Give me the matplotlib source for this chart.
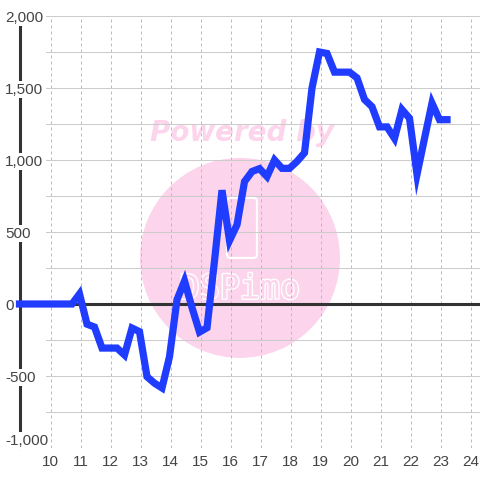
import numpy as np
import matplotlib
matplotlib.use('Agg')
import matplotlib.pyplot as plt
from matplotlib.patches import Ellipse, FancyBboxPatch
import matplotlib.patheffects as pe
from matplotlib.ticker import MultipleLocator, FuncFormatter, FixedLocator

plt.rcParams['font.family'] = ['Liberation Sans', 'DejaVu Sans']

# data
x_start = 8.96
x_step = 0.25
values = [0, 0, 0, 0, 0, 0, 0, 0, 70, -140, -160, -306, -306, -306, -354, -167,
          -192, -505, -550, -583, -366, 30, 160, -25, -195, -165, 300, 790, 440,
          550, 850, 920, 940, 885, 1000, 942, 942, 990, 1050, 1500, 1750, 1740,
          1610, 1610, 1610, 1570, 1420, 1370, 1230, 1230, 1150, 1350, 1290, 900,
          1150, 1395, 1280, 1280]
xs = x_start + x_step * np.arange(len(values))
x_ticks = list(range(10, 25))
y_ticks = [-1000, -500, 0, 500, 1000, 1500, 2000]

fig = plt.figure(figsize=(4.8, 4.8), dpi=100)
ax = fig.add_axes([46 / 480, 32 / 480, 434 / 480, 432 / 480])
ax.set_xlim(9.843, 24.31)
ax.set_ylim(-1000, 2000)
ax.set_axisbelow(True)

ax.xaxis.set_major_locator(FixedLocator(x_ticks))
ax.yaxis.set_major_locator(FixedLocator(y_ticks))
ax.yaxis.set_minor_locator(MultipleLocator(250))
ax.yaxis.set_major_formatter(FuncFormatter(lambda v, p: f"{int(v):,}"))
ax.tick_params(axis='both', which='both', length=0, labelsize=11, labelcolor='#444444')
ax.tick_params(axis='y', pad=15 * 72 / 100)
ax.tick_params(axis='x', pad=5)

ax.grid(which='both', axis='y', color='#cccccc', lw=0.75, ls='-')
ax.grid(which='major', axis='x', color='#bbbbbb', lw=0.72, ls=(0, (3, 3)))

for s in ['top', 'right', 'bottom']:
    ax.spines[s].set_visible(False)
ax.spines['left'].set_position(('outward', 26 * 72 / 100))
ax.spines['left'].set_linewidth(2.2)
ax.spines['left'].set_color('#333333')
ax.spines['left'].set_zorder(0.4)

# watermark
ax.add_patch(Ellipse((0.447, 0.44), 0.4608, 0.463, transform=ax.transAxes,
                     facecolor='#fcd5ec', edgecolor='none', zorder=0.2))
ax.text(0.4516, 0.729, 'Powered by', transform=ax.transAxes, ha='center', va='center',
        fontsize=20, fontweight='bold', fontstyle='italic', family='DejaVu Sans',
        color='#fcd5ec', zorder=0.3)
ax.add_patch(FancyBboxPatch((0.417, 0.44), 0.069, 0.139, transform=ax.transAxes,
                            boxstyle='round,pad=0,rounding_size=0.008',
                            facecolor='none', edgecolor='white', lw=1.5, zorder=0.3))
ax.text(0.447, 0.368, 'DSPimo', transform=ax.transAxes, ha='center', va='center',
        fontsize=24, family='DejaVu Sans Mono', color='#fcd5ec', zorder=0.3,
        path_effects=[pe.withStroke(linewidth=2, foreground='white')])

ax.axhline(0, color='#333333', lw=2.2, zorder=1)
ax.plot(xs, values, color='#1f3cff', lw=5.2, solid_joinstyle='miter',
        solid_capstyle='projecting', clip_on=False, zorder=3)

fig.canvas.draw()
for lbl in ax.get_yticklabels():
    lbl.set_horizontalalignment('left')
    lbl.set_bbox(dict(facecolor='white', edgecolor='none', pad=1.2))
ax.get_yticklabels()[0].set_verticalalignment('bottom')

fig.savefig('out.png', dpi=100)
